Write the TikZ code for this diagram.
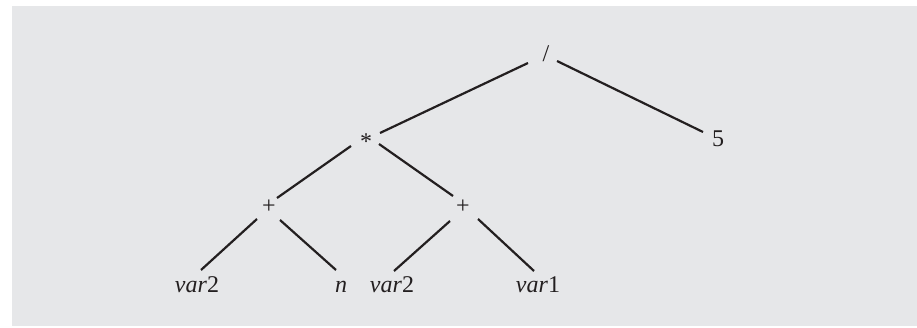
\documentclass[tikz,border=0pt]{standalone}
\usepackage{fontspec}
\setmainfont{Liberation Serif}
\definecolor{bggray}{RGB}{230,231,233}
\definecolor{ink}{RGB}{35,31,32}
\begin{document}
\begin{tikzpicture}[x=1pt,y=-1pt,
  lbl/.style={inner sep=0pt, text height=15pt, text depth=0pt, text=ink,
    font=\fontsize{24}{28}\selectfont},
  edge/.style={draw=ink, line width=2.2pt}]
\useasboundingbox (0,0) rectangle (917,328);
\fill[white] (0,0) rectangle (917,328);
\fill[bggray] (12,6) rectangle (917,326);
% nodes (centers 7.5 above baselines)
\node[lbl] (S)  at (546,54.5)  {/};
\node[lbl] (M)  at (366,142.5) {*};
\node[lbl] (F)  at (718,139.5) {5};
\node[lbl] (PL) at (269,206)   {+};
\node[lbl] (PR) at (463,206)   {+};
\node[lbl] (L1) at (197,284.5) {\textit{var}2};
\node[lbl] (L2) at (341,284.5) {\textit{n}};
\node[lbl] (L3) at (392,284.5) {\textit{var}2};
\node[lbl] (L4) at (538,284.5) {\textit{var}1};
% connectors
\draw[edge] ([shift={(-18,8.5)}]S.center)  -- ([shift={(14,-9.5)}]M.center);
\draw[edge] ([shift={(11,6.5)}]S.center)   -- ([shift={(-15,-7.5)}]F.center);
\draw[edge] ([shift={(-15,3.5)}]M.center)  -- ([shift={(8,-8)}]PL.center);
\draw[edge] ([shift={(13,1.5)}]M.center)   -- ([shift={(-10,-10)}]PR.center);
\draw[edge] ([shift={(-12,13)}]PL.center)  -- ([shift={(4,-14.5)}]L1.center);
\draw[edge] ([shift={(11,14)}]PL.center)   -- ([shift={(-5,-14.5)}]L2.center);
\draw[edge] ([shift={(-13,15)}]PR.center)  -- ([shift={(2,-13.5)}]L3.center);
\draw[edge] ([shift={(15,13)}]PR.center)   -- ([shift={(-4,-13.5)}]L4.center);
\end{tikzpicture}
\end{document}
